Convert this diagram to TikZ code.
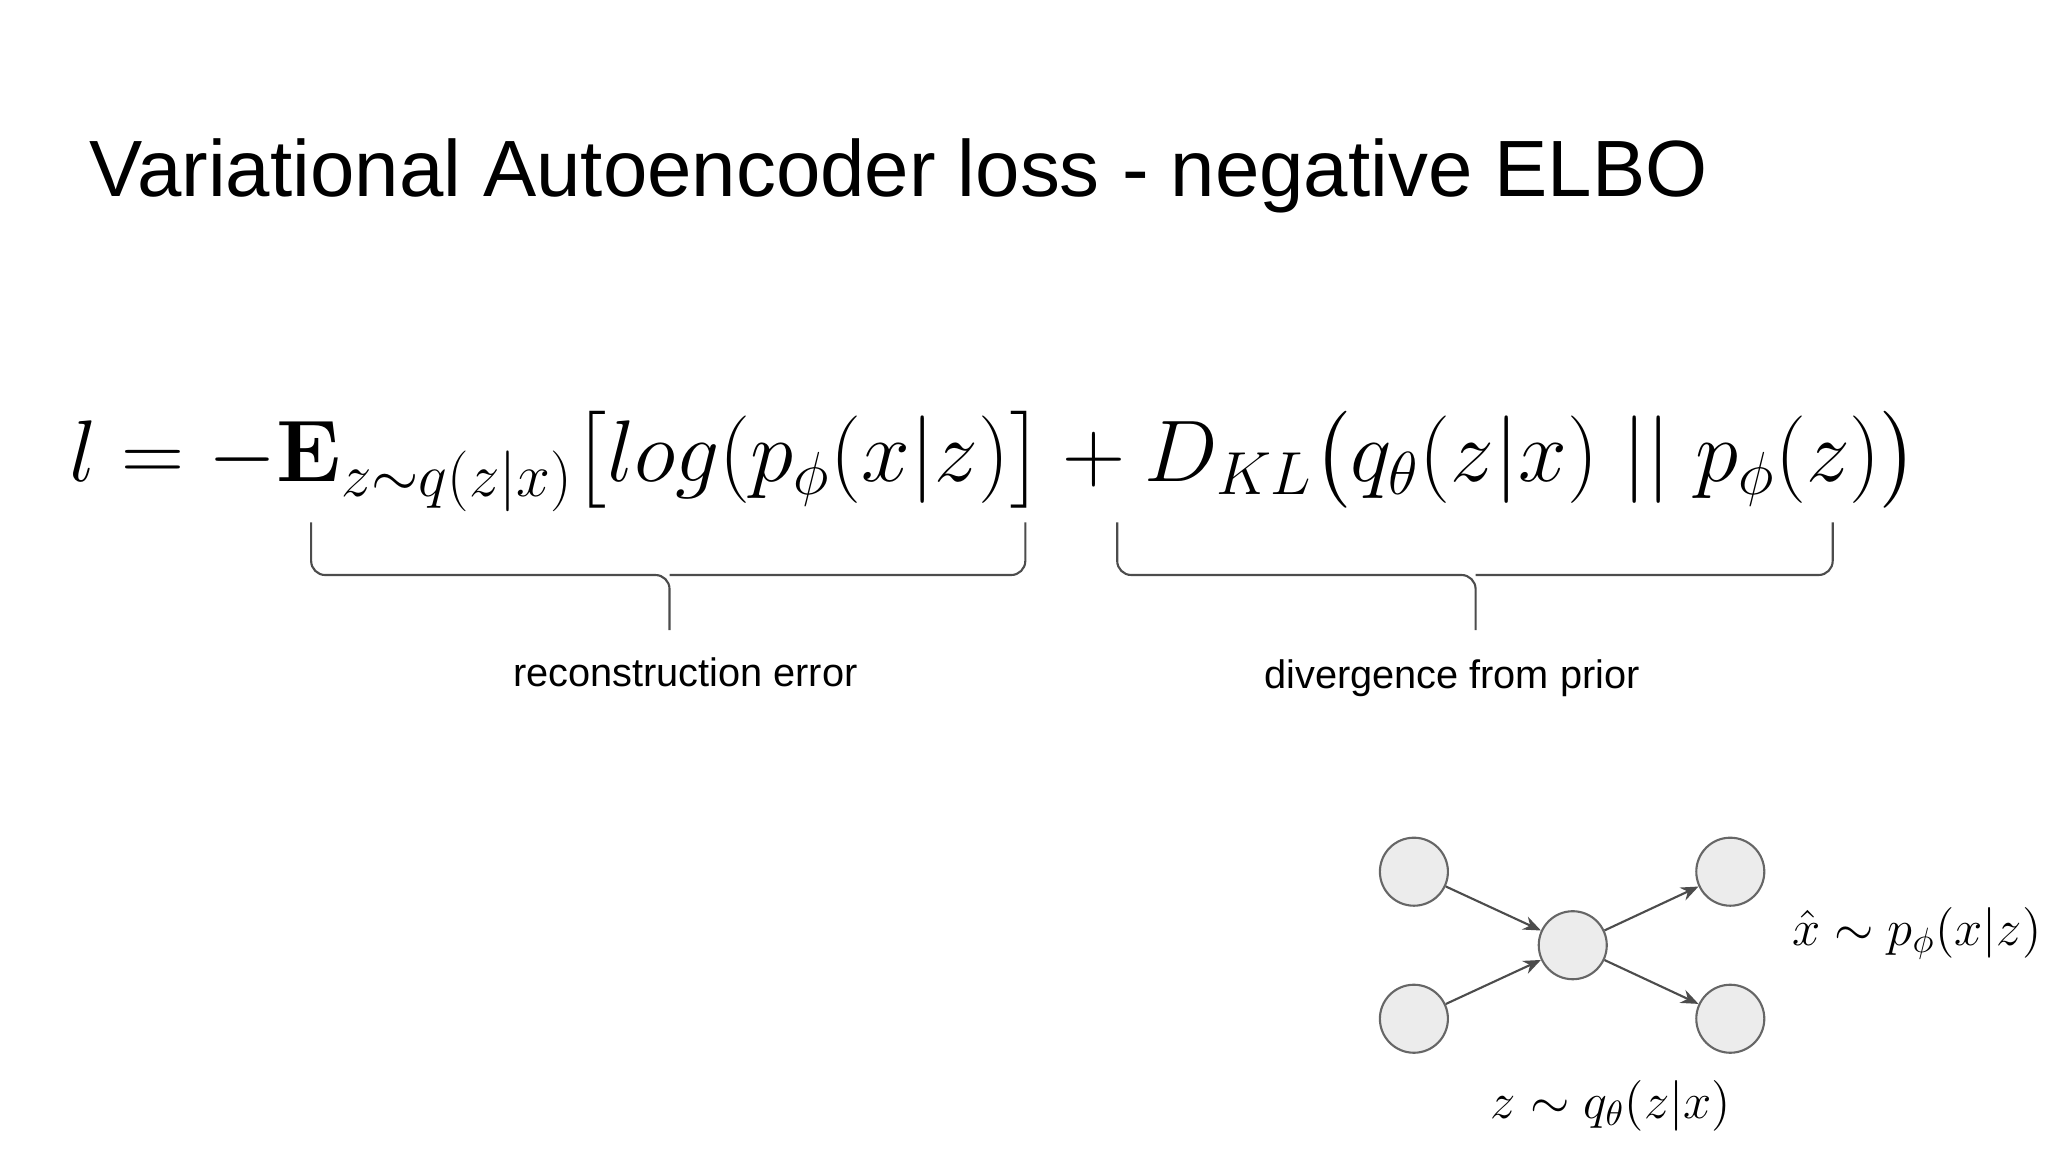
\documentclass[tikz,border=0pt]{standalone}
\usepackage{amsmath,amssymb}
\usepackage[no-math]{fontspec}
\setmainfont{Liberation Sans}
\usetikzlibrary{arrows.meta,positioning}

\begin{document}
\begin{tikzpicture}[
    x=0.01313cm, y=-0.01313cm,
    unit/.style={circle, draw=gray!80!black, fill=gray!15, minimum size=0.68cm, inner sep=0pt, line width=0.6pt},
    link/.style={-{Stealth[length=5pt,width=4pt]}, draw=gray!60!black, line width=0.6pt},
    brace/.style={draw=black!70, line width=0.6pt, rounded corners=4pt},
    note/.style={font=\fontsize{11.3}{14}\selectfont}
]
\useasboundingbox (0,0) rectangle (1560,878);

% title
\node[anchor=base west, inner sep=0pt, font=\fontsize{22.7}{27}\selectfont] (title) at (68,150)
    {Variational Autoencoder loss - negative ELBO};

% loss
\node[inner sep=0pt, font=\fontsize{23}{28}\selectfont] (loss) at (757,350)
    {$l = -\mathbf{E}_{z\sim q(z|x)}\big[log(p_\phi(x|z)\big] + D_{KL}\big(q_\theta(z|x)\;||\;p_\phi(z)\big)$};

% braces
\draw[brace] (237,398) -- (237,438) -- (510,438) -- (510,480);
\draw[brace] (781,398) -- (781,438) -- (510,438);
\draw[brace] (851,398) -- (851,438) -- (1124,438) -- (1124,480);
\draw[brace] (1396,398) -- (1396,438) -- (1124,438);
\node[note] (recon) at (522,512) {reconstruction error};
\node[note] (div) at (1106,517) {divergence from prior};

% network
\node[unit] (in1) at (1077,664) {};
\node[unit] (in2) at (1077,776) {};
\node[unit] (z) at (1198,720) {};
\node[unit] (out1) at (1318,664) {};
\node[unit] (out2) at (1318,776) {};
\draw[link] (in1) -- (z);
\draw[link] (in2) -- (z);
\draw[link] (z) -- (out1);
\draw[link] (z) -- (out2);

\node[font=\fontsize{14.6}{18}\selectfont] (xhat) at (1460,711) {$\hat{x}\sim p_\phi(x|z)$};
\node[font=\fontsize{14.6}{18}\selectfont] (zlab) at (1227,842) {$z\sim q_\theta(z|x)$};
\end{tikzpicture}
\end{document}
